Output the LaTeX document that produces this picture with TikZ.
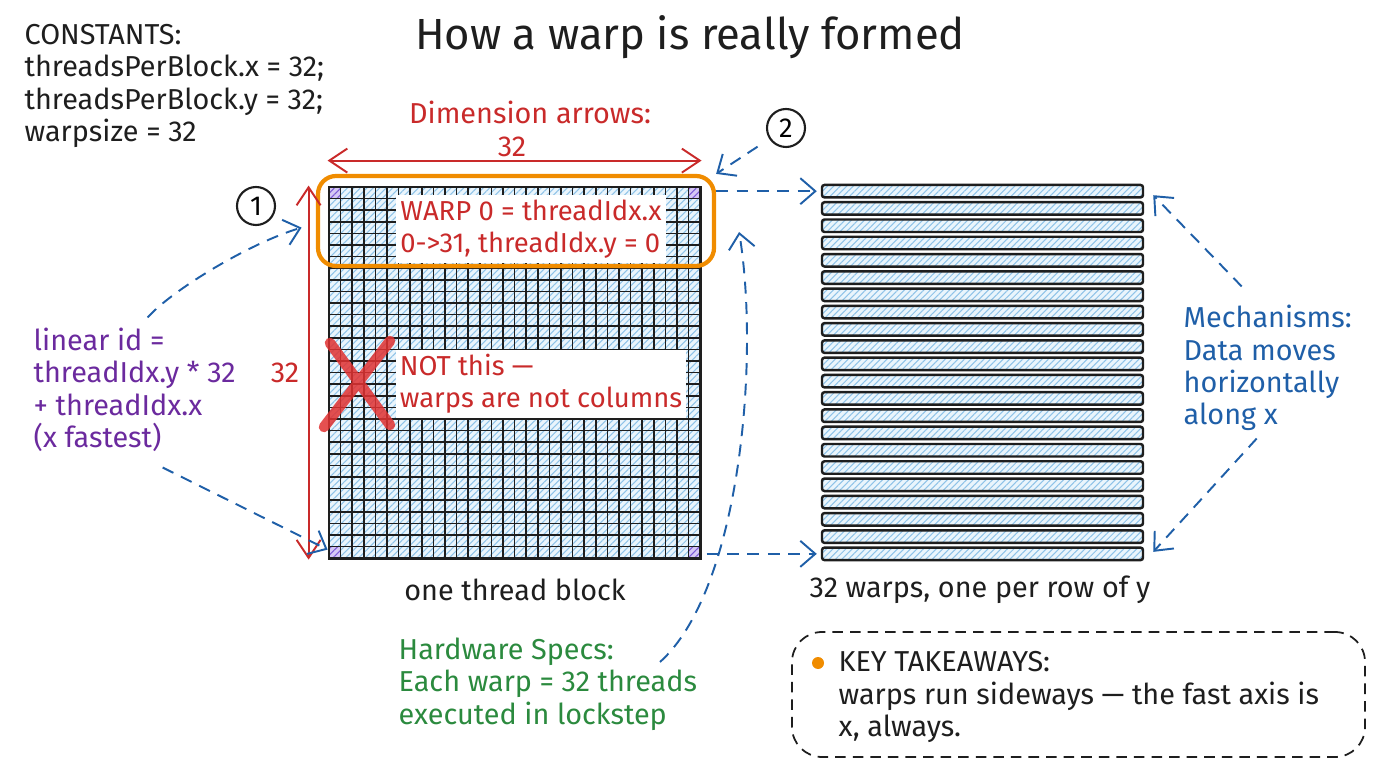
\documentclass[tikz,border=0pt]{standalone}
\usepackage{fontspec}
\setmainfont{Fira Sans}
\usetikzlibrary{arrows.meta, positioning, patterns.meta}

\definecolor{ink}{HTML}{1E1E1E}
\definecolor{inkred}{HTML}{C92A2A}
\definecolor{crossred}{HTML}{E03131}
\definecolor{inkblue}{HTML}{1F5FA8}
\definecolor{inkpurple}{HTML}{6B2A9E}
\definecolor{inkgreen}{HTML}{2B8A3E}
\definecolor{warporange}{HTML}{F08C00}
\definecolor{cellfill}{HTML}{EAF5FC}
\definecolor{hatchblue}{HTML}{8FC3E8}
\definecolor{cornerfill}{HTML}{D6C8F4}
\definecolor{hatchpurple}{HTML}{7B5BD6}

\begin{document}
\begin{tikzpicture}[x=0.1mm, y=-0.1mm,
    txt/.style={font=\fontsize{8.2}{9.2}\selectfont, text=ink, align=left, inner sep=0pt},
    redbox/.style={txt, font=\fontsize{7.8}{9.2}\selectfont, fill=white, inner sep=1.2pt, text=inkred},
    marker/.style={circle, draw=ink, line width=0.6pt, minimum size=3.8mm, inner sep=0pt, font=\fontsize{7.8}{9}\selectfont},
    flow/.style={draw=inkblue, line width=0.55pt, dash pattern=on 3.4pt off 2.4pt, -{Straight Barb[length=1.5mm, width=2.6mm]}},
    dimarrow/.style={draw=inkred, line width=0.55pt, {Straight Barb[length=1.8mm, width=2.4mm]}-{Straight Barb[length=1.8mm, width=2.4mm]}},
    hatch/.style={pattern={Lines[angle=45, distance=1.3pt, line width=0.3pt]}, pattern color=#1},
    bar/.style={draw=ink, line width=0.7pt, rounded corners=0.25mm, minimum width=32.1mm, minimum height=1.25mm, inner sep=0pt, preaction={fill=cellfill}, hatch=hatchblue}
  ]
    \useasboundingbox (0,0) rectangle (1376,768);

    % Title and constants
    \node[font=\fontsize{12.4}{14}\selectfont, text=ink] (title) at (690,37) {How a warp is really formed};
    \node[txt, anchor=west] (consts) at (24,86) {CONSTANTS:\\threadsPerBlock.x = 32;\\threadsPerBlock.y = 32;\\warpsize = 32};

    % The thread block: 32 x 32 cells
    \fill[cellfill] (329,187) rectangle (700.2,558.2);
    \fill[hatch=hatchblue] (329,187) rectangle (700.2,558.2);
    \foreach \cx/\cy in {0/0, 31/0, 0/31, 31/31} {
        \fill[cornerfill] ({329+\cx*11.6},{187+\cy*11.6}) rectangle ++(11.6,11.6);
        \fill[hatch=hatchpurple] ({329+\cx*11.6},{187+\cy*11.6}) rectangle ++(11.6,11.6);
    }
    \foreach \i in {0,...,32} {
        \draw[ink, line width=0.45pt] ({329+\i*11.6},187) -- ++(0,371.2);
        \draw[ink, line width=0.45pt] (329,{187+\i*11.6}) -- ++(371.2,0);
    }
    \node[draw=ink, line width=0.8pt, minimum width=37.12mm, minimum height=37.12mm, inner sep=0pt] (blk) at (514.6,372.6) {};
    \node[txt] (blklbl) at (515,590) {one thread block};

    % Warp 0 row
    \node[redbox] (warp0txt) at (531,229) {WARP 0 = threadIdx.x\\0->31, threadIdx.y = 0};
    \node[draw=warporange, line width=1.2pt, rounded corners=1.8mm, minimum width=39.6mm, minimum height=9mm] (warp0box) at (516,221) {};

    % Wrong reading: columns
    \node[redbox] (notcol) at (541,384) {NOT this —\\warps are not columns};
    \draw[crossred, opacity=0.85, line width=3pt, line cap=round] (330,343) -- (390,425) (390,341) -- (324,427);

    % Dimension arrows
    \node[txt, text=inkred] (dimlbl) at (530,112) {Dimension arrows:};
    \node[txt, text=inkred] (dimx) at (512,147) {32};
    \node[txt, text=inkred] (dimy) at (285,373) {32};
    \draw[dimarrow] ([yshift=2.5mm]blk.north west) -- ([yshift=2.5mm]blk.north east);
    \draw[dimarrow] ([xshift=-1.9mm]blk.north west) -- ([xshift=-1.9mm]blk.south west);

    % Markers
    \node[marker] (c1) at (256,206) {1};
    \node[marker] (c2) at (786,128) {2};

    % Warps as bars
    \foreach \k in {1,...,22}
        \node[bar] (bar\k) at (982.5,{191.2+(\k-1)*17.27}) {};
    \node[txt] (warpslbl) at (980,590) {32 warps, one per row of y};

    % Side notes
    \node[txt, text=inkpurple, anchor=west] (linid) at (33,390) {linear id =\\threadIdx.y * 32\\+ threadIdx.x\\(x fastest)};
    \node[txt, text=inkblue, anchor=west] (mech) at (1183,368) {Mechanisms:\\Data moves\\horizontally\\along x};
    \node[txt, text=inkgreen, anchor=west] (hw) at (398,684) {Hardware Specs:\\Each warp = 32 threads\\executed in lockstep};

    % Connectors
    \draw[flow] ([xshift=1.3mm, yshift=1mm]linid.north) .. controls (172,290) and (250,243) .. ([xshift=-2.6mm, yshift=-4.2mm]blk.north west);
    \draw[flow] ([xshift=2.8mm, yshift=-1.5mm]linid.south) -- ([yshift=1mm]blk.south west);
    \draw[flow, shorten <=1.4mm] (c2) -- (warp0box.north east);
    \draw[flow, shorten >=0.4mm] (warp0box.east |- bar1.west) -- (bar1.west);
    \draw[flow, shorten >=0.4mm] ([xshift=0.5mm]blk.east |- bar22.west) -- (bar22.west);
    \draw[flow] ([xshift=-2.6mm, yshift=1.8mm]mech.north) -- ([xshift=0.9mm, yshift=-0.4mm]bar1.east);
    \draw[flow] ([xshift=-1.1mm, yshift=-0.7mm]mech.south) -- ([xshift=0.9mm, yshift=0.2mm]bar22.east);
    \coordinate (hwtail) at (660,662);
    \draw[flow] (hwtail) .. controls (740,590) and (760,360) .. ([xshift=2.3mm, yshift=-1.1mm]warp0box.east);

    % Key takeaways
    \node[draw=ink, line width=0.5pt, dash pattern=on 3pt off 2pt, rounded corners=3mm, minimum width=57.3mm, minimum height=12.5mm] (keybox) at (1078.5,694.5) {};
    \node[circle, fill=warporange, minimum size=1.2mm, inner sep=0pt] (dot) at (818,663) {};
    \node[txt, anchor=west] (keytxt) at (838,697) {KEY TAKEAWAYS:\\warps run sideways — the fast axis is\\x, always.};
\end{tikzpicture}
\end{document}
